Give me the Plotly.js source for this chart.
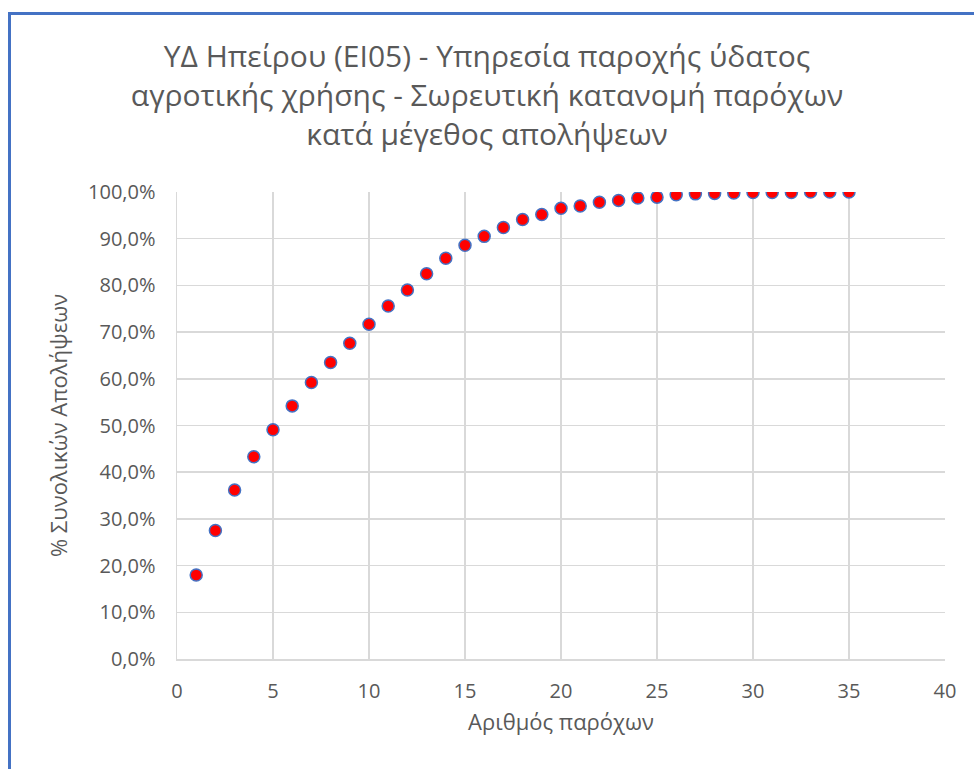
<!DOCTYPE html>
<html>
<head>
<meta charset="utf-8">
<script src="https://cdn.plot.ly/plotly-3.0.1.min.js"></script>
<style>
  html, body { margin: 0; padding: 0; background: #fff; }
  #wrap { position: relative; width: 974px; height: 769px; overflow: hidden; }
  #chart { position: absolute; left: 0; top: 0; width: 974px; height: 769px; }
  #frame { position: absolute; left: 8px; top: 12px; width: 1000px; height: 800px;
           border-left: 3px solid #4472C4; border-top: 3px solid #4472C4; pointer-events: none; }
</style>
</head>
<body>
<div id="wrap">
  <div id="chart"></div>
  <div id="frame"></div>
</div>
<script>
const providers = [1,2,3,4,5,6,7,8,9,10,11,12,13,14,15,16,17,18,19,20,21,22,23,24,25,26,27,28,29,30,31,32,33,34,35];
const cumulativeShare = [0.180,0.275,0.362,0.433,0.491,0.542,0.592,0.635,0.676,0.717,0.756,0.790,0.825,0.858,0.886,0.905,0.924,0.941,0.952,0.965,0.970,0.978,0.982,0.987,0.989,0.994,0.996,0.997,0.998,0.999,0.999,0.999,1.000,1.000,1.000];

const titleText = 'ΥΔ Ηπείρου (ΕΙ05) - Υπηρεσία παροχής ύδατος<br>αγροτικής χρήσης - Σωρευτική κατανομή παρόχων<br>κατά μέγεθος απολήψεων';
const xTitle = 'Αριθμός παρόχων';
const yTitle = '% Συνολικών Απολήψεων';

const FONT = 'Open Sans, Noto Sans, sans-serif';
const GREY = '#595959';

const trace = {
  x: providers,
  y: cumulativeShare,
  type: 'scatter',
  mode: 'markers',
  marker: { color: '#FF0000', size: 12, line: { color: '#4472C4', width: 1.5 } },
  hoverinfo: 'x+y'
};

const layout = {
  width: 974,
  height: 769,
  paper_bgcolor: '#ffffff',
  plot_bgcolor: '#ffffff',
  separators: ',.',
  showlegend: false,
  margin: { l: 177, r: 29, t: 192, b: 110 },
  title: {
    text: titleText,
    font: { family: FONT, size: 30, color: GREY },
    x: 0.5, xref: 'container', xanchor: 'center',
    y: 1 - 67/769, yref: 'container', yanchor: 'middle'
  },
  xaxis: {
    range: [0, 40],
    dtick: 5,
    tick0: 0,
    showgrid: true,
    gridcolor: '#D9D9D9',
    gridwidth: 1.5,
    zeroline: false,
    showline: true,
    linecolor: '#D9D9D9',
    linewidth: 1.5,
    ticks: '',
    ticklabelstandoff: 13,
    tickfont: { family: FONT, size: 20, color: GREY },
    title: { text: xTitle, font: { family: FONT, size: 22, color: GREY }, standoff: 12 }
  },
  yaxis: {
    range: [0, 1],
    dtick: 0.1,
    tick0: 0,
    tickformat: '.1%',
    showgrid: true,
    gridcolor: '#D9D9D9',
    gridwidth: 1.5,
    zeroline: false,
    showline: true,
    linecolor: '#D9D9D9',
    linewidth: 1.5,
    ticks: '',
    ticklabelstandoff: 16,
    tickfont: { family: FONT, size: 20, color: GREY },
    title: { text: yTitle, font: { family: FONT, size: 22, color: GREY }, standoff: 14 }
  }
};

Plotly.newPlot('chart', [trace], layout, { displayModeBar: false, staticPlot: true });
</script>
</body>
</html>
